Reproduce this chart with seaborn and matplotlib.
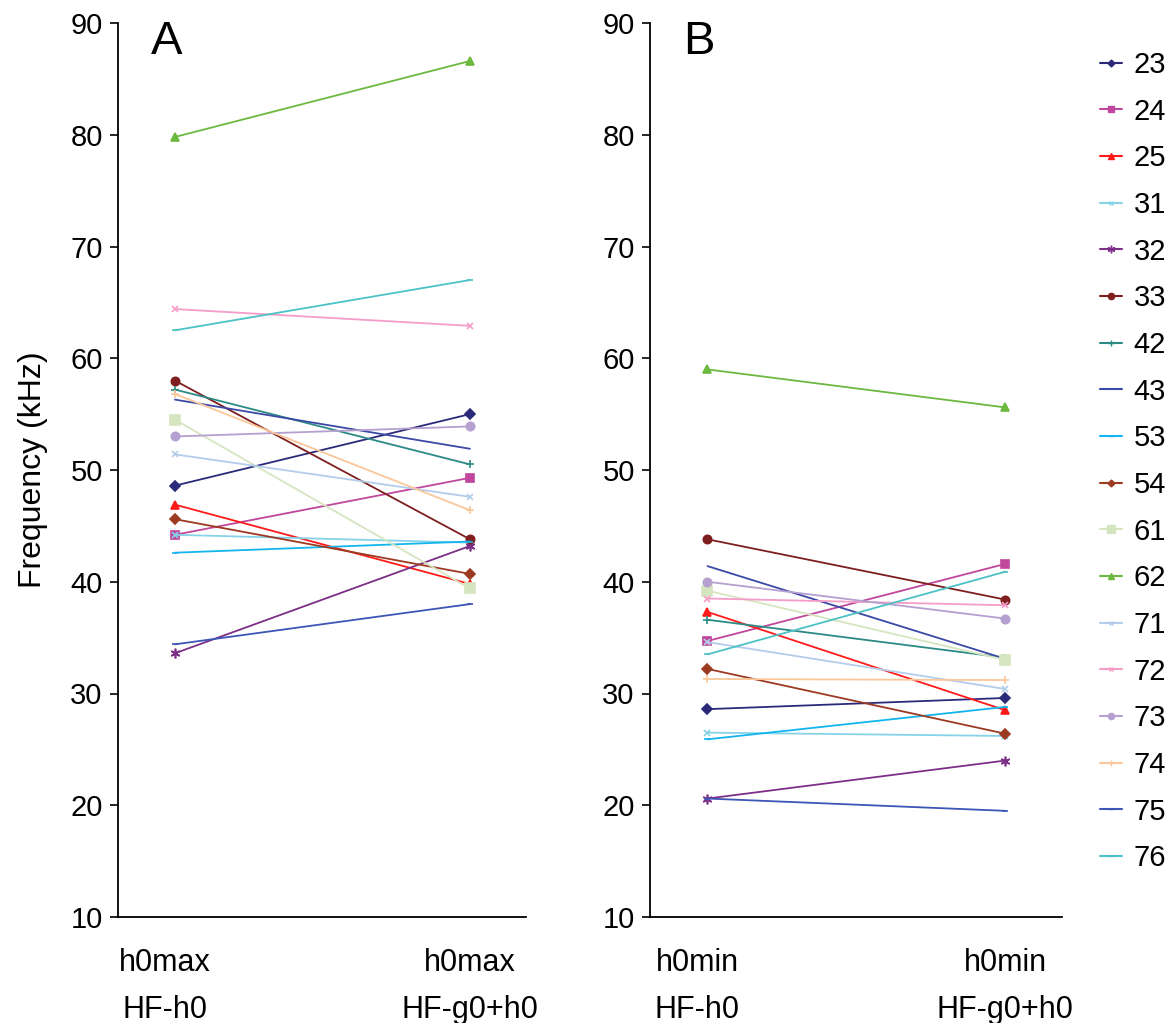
import matplotlib
matplotlib.use("Agg")
import matplotlib.pyplot as plt
from matplotlib.lines import Line2D
import seaborn as sns
import pandas as pd

sns.set_style("ticks")
plt.rcParams['font.family'] = ['Liberation Sans', 'DejaVu Sans']
plt.rcParams.update({"text.color": "black", "axes.labelcolor": "black",
                     "xtick.color": "black", "ytick.color": "black"})

ids = ["23", "24", "25", "31", "32", "33", "42", "43", "53", "54",
       "61", "62", "71", "72", "73", "74", "75", "76"]

# Panel A: h0max (HF-h0) -> h0max (HF-g0+h0)
a_left = [48.6, 44.2, 46.9, 44.2, 33.6, 58.0, 57.2, 56.3, 42.6, 45.6,
          54.5, 79.8, 51.4, 64.4, 53.0, 56.8, 34.4, 62.5]
a_right = [55.0, 49.3, 39.8, 43.5, 43.2, 43.8, 50.5, 51.9, 43.6, 40.7,
           39.4, 86.6, 47.6, 62.9, 53.9, 46.4, 38.0, 67.0]

# Panel B: h0min (HF-h0) -> h0min (HF-g0+h0)
b_left = [28.6, 34.7, 37.3, 26.5, 20.6, 43.8, 36.6, 41.4, 25.9, 32.2,
          39.2, 59.0, 34.6, 38.5, 40.0, 31.3, 20.6, 33.5]
b_right = [29.6, 41.6, 28.5, 26.2, 24.0, 38.4, 33.2, 33.1, 28.8, 26.4,
           33.0, 55.6, 30.4, 37.9, 36.7, 31.2, 19.5, 40.9]

a_ticks = ["h0max\nHF-h0", "h0max\nHF-g0+h0"]
b_ticks = ["h0min\nHF-h0", "h0min\nHF-g0+h0"]

colors = {
    "23": "#2B2A7A", "24": "#C0479C", "25": "#FF1A1A", "31": "#86D3E8",
    "32": "#7D2F88", "33": "#7E1E1E", "42": "#2C8A85", "43": "#3B49A6",
    "53": "#12B5EE", "54": "#9C3A22", "61": "#D5E5C0", "62": "#6DB83F",
    "71": "#B3CDEB", "72": "#F59CC8", "73": "#B5A0CF", "74": "#FAC79A",
    "75": "#3D55B6", "76": "#4CC2C6",
}
markers = {
    "23": ("D", 5), "24": ("s", 6), "25": ("^", 6), "31": ("x", 5),
    "32": ((6, 2, 0), 7), "33": ("o", 6), "42": ("+", 6), "43": ("None", 0),
    "53": ("_", 4), "54": ("D", 5), "61": ("s", 7), "62": ("^", 6),
    "71": ("x", 5), "72": ("x", 5), "73": ("o", 6), "74": ("+", 6),
    "75": ("_", 4), "76": ("_", 4),
}

rows = []
for panel, lv, rv in (("A", a_left, a_right), ("B", b_left, b_right)):
    for i, s in enumerate(ids):
        rows.append({"panel": panel, "id": s, "pos": 0, "freq": lv[i]})
        rows.append({"panel": panel, "id": s, "pos": 1, "freq": rv[i]})
df = pd.DataFrame(rows)

fig = plt.figure(figsize=(11.7, 10.23), dpi=100)
axA = fig.add_axes([118 / 1170, 1 - 917 / 1023, 408 / 1170, 894 / 1023])
axB = fig.add_axes([650 / 1170, 1 - 917 / 1023, 412 / 1170, 894 / 1023])

FS = 21
for ax, panel, ticks, letter in ((axA, "A", a_ticks, "A"), (axB, "B", b_ticks, "B")):
    sub = df[df.panel == panel]
    for s in ids:
        m, ms = markers[s]
        sns.lineplot(data=sub[sub.id == s], x="pos", y="freq", ax=ax,
                     color=colors[s], lw=1.3, marker=m, markersize=ms,
                     markeredgecolor=colors[s], markeredgewidth=1.2,
                     legend=False, estimator=None)
    ax.set_xlim(-0.193, 1.19)
    ax.set_ylim(10, 90)
    ax.set_yticks(range(10, 91, 10))
    ax.set_xticks([-0.035, 1])
    ax.set_xticklabels(ticks, linespacing=1.75)
    ax.tick_params(axis="x", length=0, pad=22, labelsize=22)
    ax.tick_params(axis="y", length=6, width=1.2, labelsize=FS, pad=5, direction="out")
    ax.set_xlabel("")
    ax.set_ylabel("")
    sns.despine(ax=ax)
    for sp in ("left", "bottom"):
        ax.spines[sp].set_linewidth(1.3)
        ax.spines[sp].set_color("black")
    ax.text(0.08, 1.003, letter, transform=ax.transAxes, fontsize=34,
            va="top", ha="left")

axA.set_ylabel("Frequency (kHz)", fontsize=23, labelpad=16)

handles = []
for s in ids:
    m, ms = markers[s]
    handles.append(Line2D([], [], color=colors[s], lw=1.5, marker=m,
                          markersize=max(ms - 1.5, 0), markeredgecolor=colors[s]))
fig.legend(handles, ids, loc="upper left", bbox_to_anchor=(1100 / 1170, 1 - 51 / 1023),
           frameon=False, fontsize=FS, handlelength=0.75, handletextpad=0.4,
           labelspacing=0.64, borderaxespad=0, borderpad=0)

fig.savefig("out.png", dpi=100)
